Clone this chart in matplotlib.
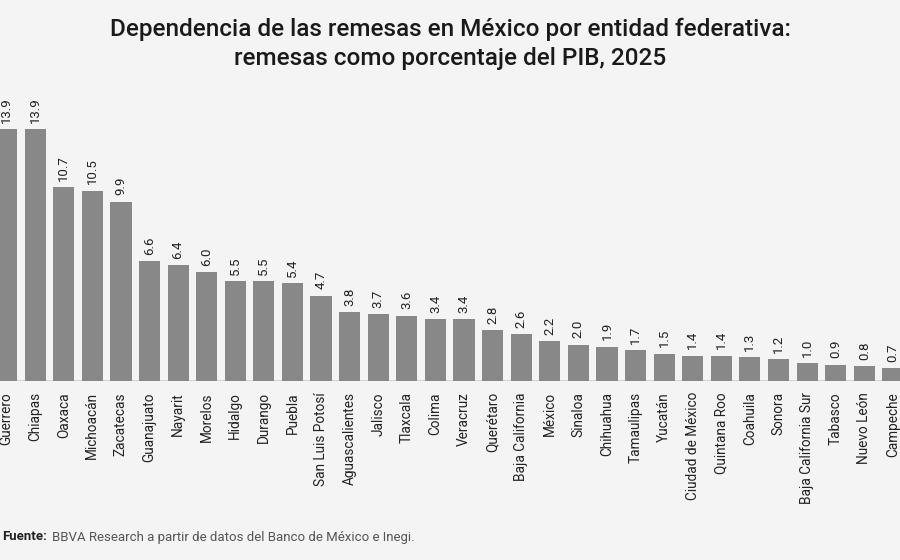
import matplotlib.pyplot as plt

# Remesas como % del PIB por entidad federativa, 2025
estados = ['Guerrero', 'Chiapas', 'Oaxaca', 'Michoacán', 'Zacatecas', 'Guanajuato',
           'Nayarit', 'Morelos', 'Hidalgo', 'Durango', 'Puebla', 'San Luis Potosí',
           'Aguascalientes', 'Jalisco', 'Tlaxcala', 'Colima', 'Veracruz', 'Querétaro',
           'Baja California', 'México', 'Sinaloa', 'Chihuahua', 'Tamaulipas', 'Yucatán',
           'Ciudad de México', 'Quintana Roo', 'Coahuila', 'Sonora', 'Baja California Sur',
           'Tabasco', 'Nuevo León', 'Campeche']
remesas_pib = [13.9, 13.9, 10.7, 10.5, 9.9, 6.6, 6.4, 6.0, 5.5, 5.5, 5.4, 4.7,
               3.8, 3.7, 3.6, 3.4, 3.4, 2.8, 2.6, 2.2, 2.0, 1.9, 1.7, 1.5,
               1.4, 1.4, 1.3, 1.2, 1.0, 0.9, 0.8, 0.7]

plt.rcParams['font.family'] = ['Roboto', 'DejaVu Sans']
bg = '#f4f4f4'

fig = plt.figure(figsize=(9, 5.6), dpi=100, facecolor=bg)
ax = fig.add_axes([0, 1 - 381 / 560, 1, 281 / 560])
ax.set_facecolor(bg)

x = list(range(len(estados)))
ax.bar(x, remesas_pib, width=0.74, color='#888888', zorder=2)
ax.axhline(0, color='#d0d0d0', lw=2, zorder=1)

for xi, v in zip(x, remesas_pib):
    ax.text(xi, v + 0.35, f'{v:.1f}', rotation=90, ha='center', va='bottom',
            fontsize=9.5, color='#222222')

ax.set_xlim(-0.23, 31.25)
ax.set_ylim(0, 15.5)
ax.set_xticks(x)
ax.set_xticklabels(estados, rotation=90, fontsize=9.8, color='#222222')
ax.tick_params(axis='x', length=0, pad=8)
ax.set_yticks([])
for s in ax.spines.values():
    s.set_visible(False)

fig.text(0.5, 1 - 44 / 560, 'Dependencia de las remesas en México por entidad federativa:\n'
         'remesas como porcentaje del PIB, 2025', ha='center', va='center',
         fontsize=17.5, fontweight='medium', color='#1a1a1a', linespacing=1.35)

fig.text(0.002, 1 - 537 / 560, 'Fuente:', fontsize=9.5, fontweight='bold', color='#222222',
         ha='left', va='center')
fig.text(0.058, 1 - 537 / 560, 'BBVA Research a partir de datos del Banco de México e Inegi.',
         fontsize=9.5, color='#555555', ha='left', va='center')

fig.savefig('out.png', dpi=100, facecolor=bg)
